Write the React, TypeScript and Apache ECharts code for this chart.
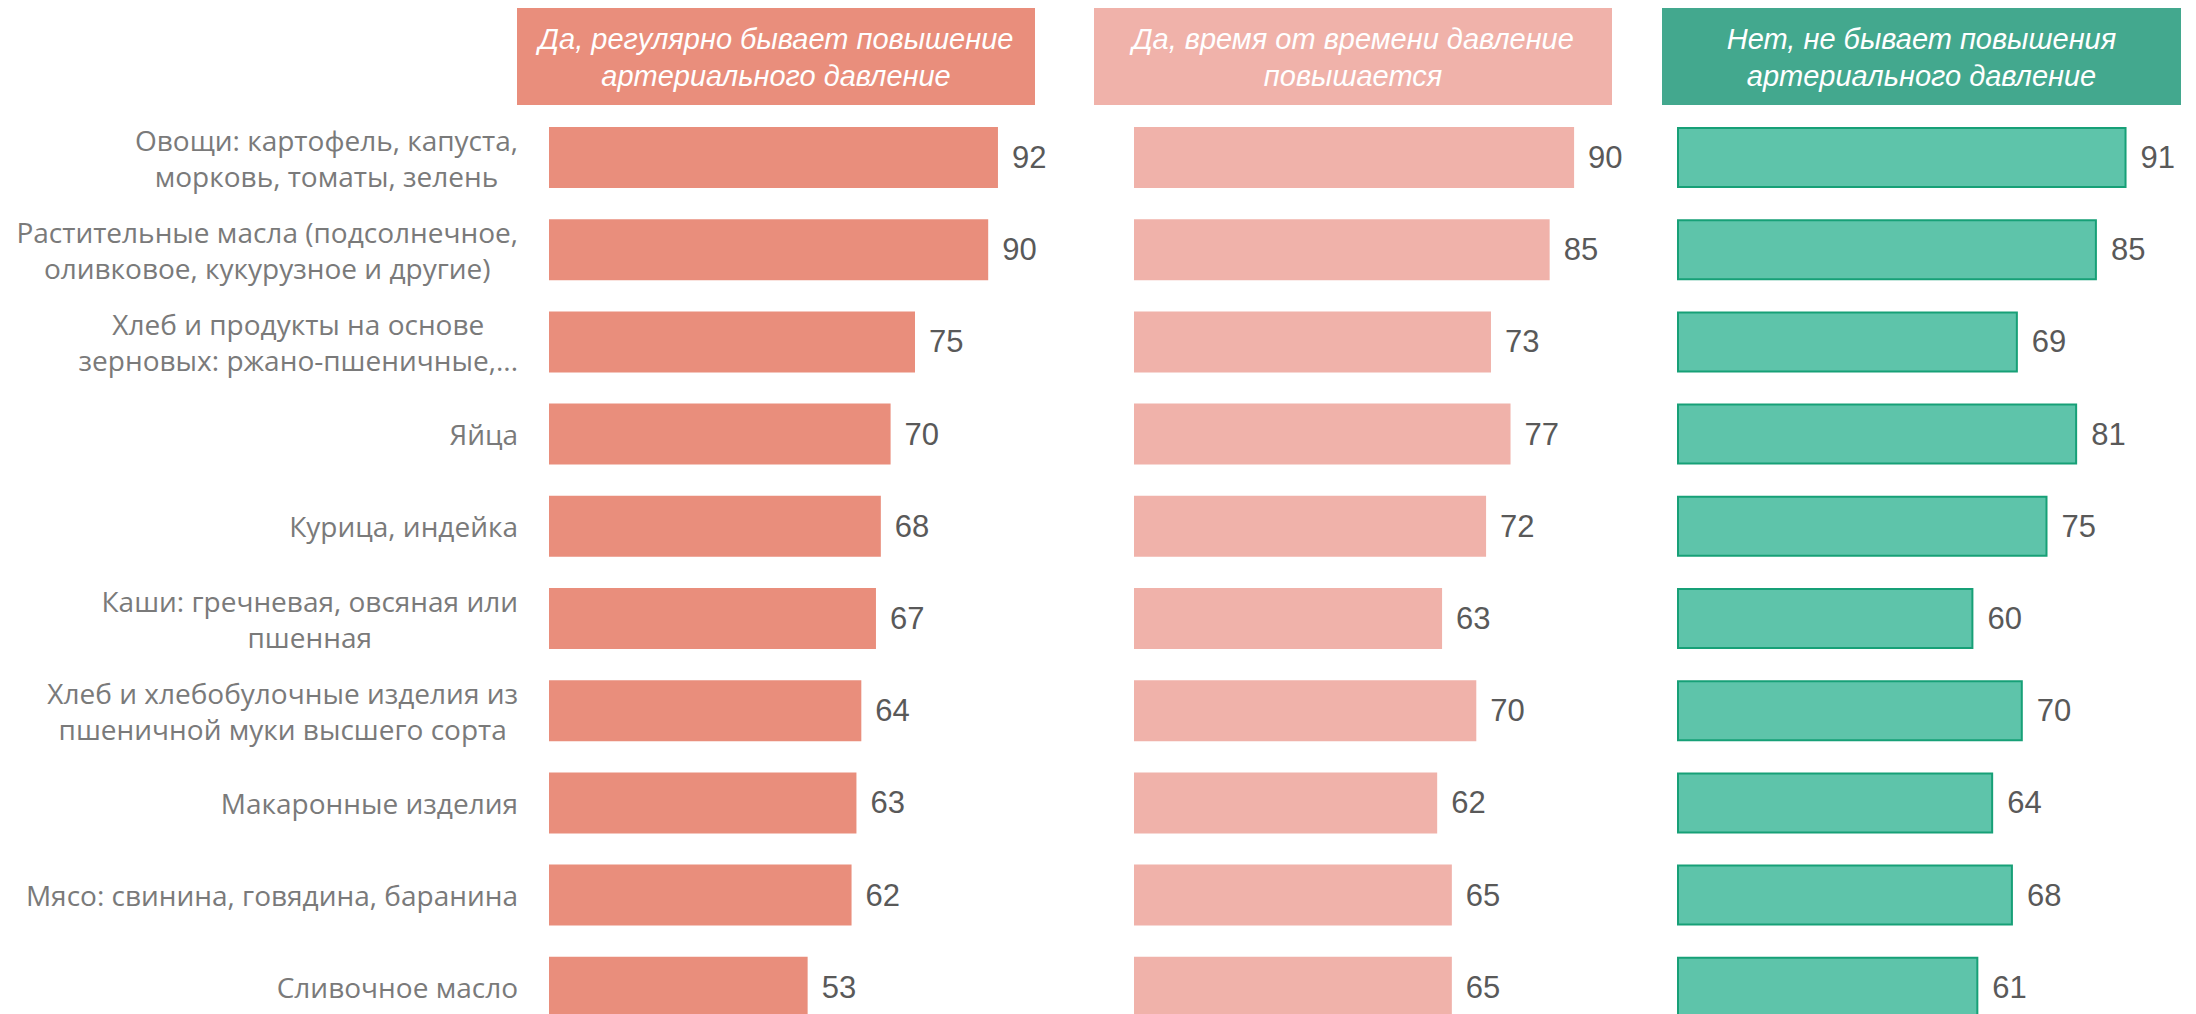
import React, { useEffect, useRef } from "react";
import * as echarts from "echarts";

const categories = [
  "Овощи: картофель, капуста,\nморковь, томаты, зелень",
  "Растительные масла (подсолнечное,\nоливковое, кукурузное и другие)",
  "Хлеб и продукты на основе\nзерновых: ржано-пшеничные,...",
  "Яйца",
  "Курица, индейка",
  "Каши: гречневая, овсяная или\nпшенная",
  "Хлеб и хлебобулочные изделия из\nпшеничной муки высшего сорта",
  "Макаронные изделия",
  "Мясо: свинина, говядина, баранина",
  "Сливочное масло",
];

const regularValues = [92, 90, 75, 70, 68, 67, 64, 63, 62, 53];
const sometimesValues = [90, 85, 73, 77, 72, 63, 70, 62, 65, 65];
const neverValues = [91, 85, 69, 81, 75, 60, 70, 64, 68, 61];

const headerTitles = [
  "Да, регулярно бывает повышение\nартериального давление",
  "Да, время от времени давление\nповышается",
  "Нет, не бывает повышения\nартериального давление",
];

const FONT = "'Liberation Sans', Arial, sans-serif";
const CAT_FONT = "'Open Sans', 'Liberation Sans', sans-serif";

export default function App() {
  const ref = useRef<HTMLDivElement>(null);

  useEffect(() => {
    if (!ref.current) return;
    const chart = echarts.init(ref.current, undefined, { renderer: "svg" });

    const panels = [
      { left: 549, width: 488, data: regularValues, color: "#e98e7c", border: null, header: { x: 517, w: 518, color: "#e98e7c" } },
      { left: 1134, width: 489, data: sometimesValues, color: "#f0b2aa", border: null, header: { x: 1094, w: 518, color: "#f0b2aa" } },
      { left: 1677, width: 494, data: neverValues, color: "#5ec4aa", border: "#17a077", header: { x: 1662, w: 519, color: "#43a88e" } },
    ];

    const top = 111.4;
    const height = 922;

    const option: any = {
      animation: false,
      backgroundColor: "#ffffff",
      grid: panels.map((p) => ({ left: p.left, width: p.width, top, height, containLabel: false })),
      xAxis: panels.map((_, i) => ({
        type: "value",
        gridIndex: i,
        min: 0,
        max: 100,
        show: false,
      })),
      yAxis: panels.map((_, i) => ({
        type: "category",
        gridIndex: i,
        data: categories,
        inverse: true,
        axisLine: { show: false },
        axisTick: { show: false },
        splitLine: { show: false },
        axisLabel: {
          show: i === 0,
          interval: 0,
          margin: 31,
          align: "right",
          formatter: (v: string) =>
            v
              .split("\n")
              .map((l) => `{c|${l}}`)
              .join("\n"),
          rich: {
            c: {
              align: "center",
              fontSize: 28,
              lineHeight: 36,
              color: "#7a7a7a",
              fontFamily: CAT_FONT,
            },
          },
        },
      })),
      series: panels.map((p, i) => ({
        type: "bar",
        xAxisIndex: i,
        yAxisIndex: i,
        data: p.data,
        barWidth: 61,
        itemStyle: p.border
          ? { color: p.color, borderColor: p.border, borderWidth: 2 }
          : { color: p.color },
        label: {
          show: true,
          position: "right",
          distance: 14,
          color: "#595959",
          fontSize: 31,
          fontFamily: FONT,
        },
      })),
      graphic: panels.flatMap((p, i) => [
        {
          type: "rect",
          shape: { x: p.header.x, y: 8, width: p.header.w, height: 97 },
          style: { fill: p.header.color },
          silent: true,
        },
        {
          type: "text",
          x: p.header.x + p.header.w / 2,
          y: 57,
          style: {
            text: headerTitles[i],
            fill: "#ffffff",
            font: `italic 29px ${FONT}`,
            lineHeight: 37,
            align: "center",
            verticalAlign: "middle",
          },
          silent: true,
        },
      ]),
    };

    chart.setOption(option);
    return () => chart.dispose();
  }, []);

  return (
    <div
      ref={ref}
      style={{ position: "fixed", left: 0, top: 0, width: 2196, height: 1060, background: "#fff" }}
    />
  );
}
